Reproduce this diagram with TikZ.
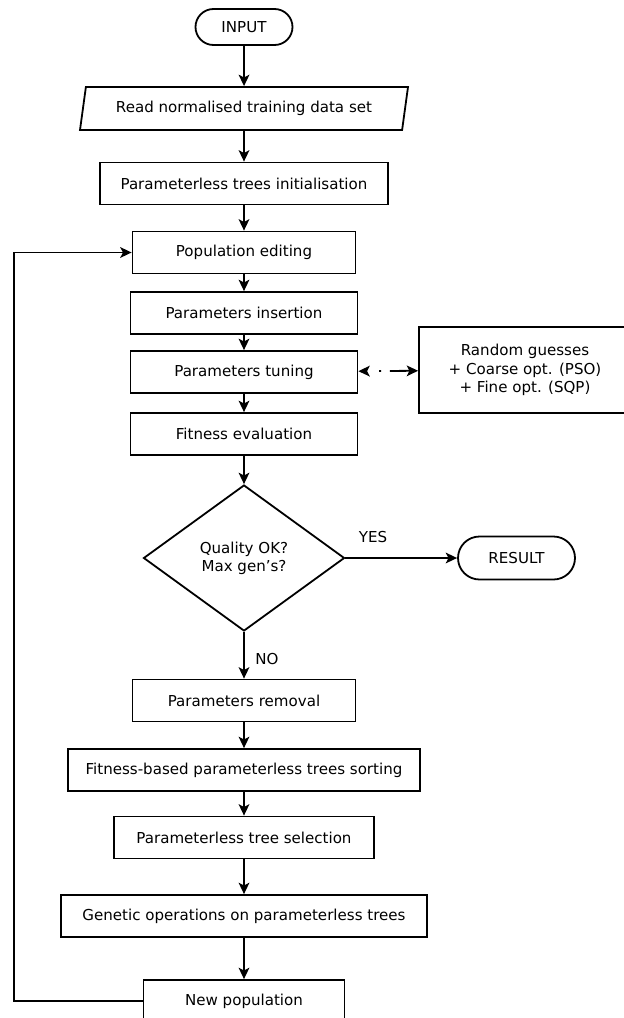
\documentclass[tikz,border=0pt]{standalone}
\usepackage{fontspec}
\setmainfont{DejaVu Sans}
\usetikzlibrary{shapes.geometric,shapes.misc,arrows.meta}

\tikzset{
  blk/.style={draw, rectangle, inner sep=0pt, minimum height=31.5pt},
  term/.style={draw, rounded rectangle, inner sep=0pt},
  flow/.style={-{Stealth[length=8.5pt,width=8pt,inset=2pt]}},
  hint/.style={{Stealth[length=8.5pt,width=8pt,inset=2pt]}-{Stealth[length=8.5pt,width=8pt,inset=2pt]},
    dash pattern=on 0pt off 9.5pt on 1.5pt off 6.5pt on 40pt off 0pt},
}

\begin{document}
\begin{tikzpicture}[x=0.75pt, y=-0.75pt, line width=1.35pt, font=\fontsize{11.3}{13.7}\selectfont]
\useasboundingbox (0,0) rectangle (624,1018);
\node[term, minimum width=72.75pt, minimum height=27pt] (input) at (244,27) {INPUT};
\node[draw, trapezium, trapezium left angle=68, trapezium right angle=112, trapezium stretches body,
  inner sep=0pt, minimum width=246pt, minimum height=32.25pt] (read) at (244,108.5) {Read normalised training data set};
\node[blk, minimum width=216pt] (init) at (244,183.5) {Parameterless trees initialisation};
\node[blk, minimum width=167.25pt] (popedit) at (244,252.5) {Population editing};
\node[blk, minimum width=170.25pt] (insert) at (244,313) {Parameters insertion};
\node[blk, minimum width=170.25pt] (tuning) at (244,372) {Parameters tuning};
\node[blk, minimum width=159pt, minimum height=64.5pt, align=center] (random) at (525,370)
  {Random guesses\\+ Coarse opt. (PSO)\\+ Fine opt. (SQP)};
\node[blk, minimum width=170.25pt] (fiteval) at (244,434) {Fitness evaluation};
\node[draw, diamond, aspect=1.38, inner sep=0pt, minimum width=150.75pt, minimum height=109.5pt,
  align=center] (check) at (244,558) {Quality OK?\\Max gen's?};
\node[term, minimum width=87.75pt, minimum height=32.25pt] (result) at (516.5,558) {RESULT};
\node (yes) at (373,537) {YES};
\node (no) at (267,659) {NO};
\node[blk, minimum width=167.25pt] (removal) at (244,700.5) {Parameters removal};
\node[blk, minimum width=264pt] (sorting) at (244,770) {Fitness-based parameterless trees sorting};
\node[blk, minimum width=195pt] (select) at (244,837.5) {Parameterless tree selection};
\node[blk, minimum width=274.5pt] (genetic) at (244,916) {Genetic operations on parameterless trees};
\node[blk, minimum width=150.75pt] (newpop) at (244,1001) {New population};
\coordinate (loop) at (14,1001);

\draw[flow] (input) -- (read);
\draw[flow] (read) -- (init);
\draw[flow] (init) -- (popedit);
\draw[flow] (popedit) -- (insert);
\draw[flow] (insert) -- (tuning);
\draw[flow] (tuning) -- (fiteval);
\draw[hint] (tuning) -- (random);
\draw[flow] (fiteval) -- (check);
\draw[flow] (check) -- (result);
\draw[flow] (check) -- (removal);
\draw[flow] (removal) -- (sorting);
\draw[flow] (sorting) -- (select);
\draw[flow] (select) -- (genetic);
\draw[flow] (genetic) -- (newpop);
\draw[flow] (newpop.west) -- (loop) |- (popedit.west);
\end{tikzpicture}
\end{document}
